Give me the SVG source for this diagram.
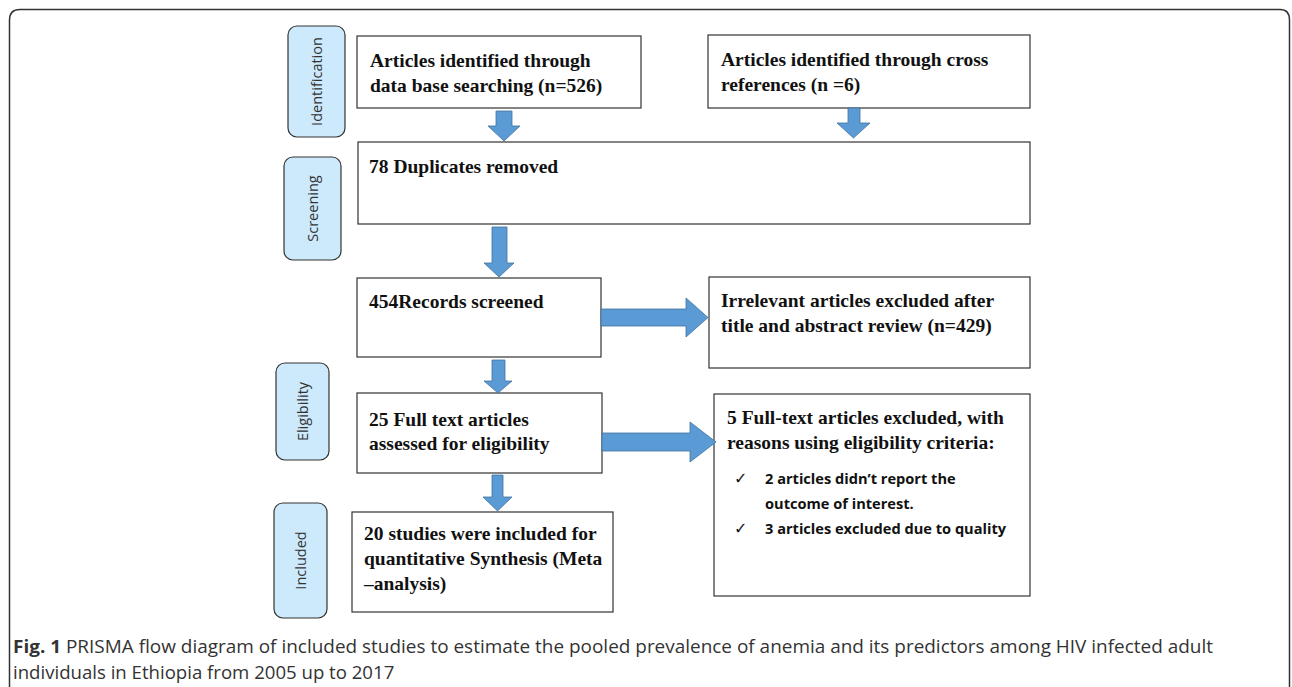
<svg xmlns="http://www.w3.org/2000/svg" width="1292" height="687" viewBox="0 0 1292 687">
<style>
.box{fill:#fff;stroke:#333;stroke-width:1.2}
.side{fill:#cdeafc;stroke:#333;stroke-width:1.2}
.t{font-family:"Liberation Serif","Times New Roman",serif;font-weight:bold;font-size:19.5px;fill:#111}
.s{font-family:"Open Sans","Noto Sans",sans-serif;font-size:14.5px;fill:#333}
.b{font-family:"Open Sans","Liberation Sans",sans-serif;font-weight:bold;font-size:14.6px;fill:#111}
.ck{font-family:"DejaVu Sans",sans-serif;font-size:16px;fill:#111}
.arr{fill:#5b9bd5;stroke:#41719c;stroke-width:0.8}
.cap{font-family:"Open Sans","Noto Sans",sans-serif;font-size:18.6px;fill:#333}
</style>
<rect width="1292" height="687" fill="#fff"/>
<path d="M9.5,700 V20 Q9.5,9.5 20,9.5 H1280 Q1289.5,9.5 1289.5,20 V700" fill="none" stroke="#333" stroke-width="1.5"/>

<g id="side-identification"><rect class="side" x="288" y="26" width="57" height="111" rx="9"/><text class="s" transform="translate(321.5,81.5) rotate(-90)" text-anchor="middle">Identification</text></g>
<g id="side-screening"><rect class="side" x="284" y="157" width="57" height="103" rx="9"/><text class="s" transform="translate(317.5,208.5) rotate(-90)" text-anchor="middle">Screening</text></g>
<g id="side-eligibility"><rect class="side" x="276" y="363" width="53" height="97" rx="9"/><text class="s" transform="translate(307.5,411.5) rotate(-90)" text-anchor="middle">Eligibility</text></g>
<g id="side-included"><rect class="side" x="274" y="503" width="53" height="115" rx="9"/><text class="s" transform="translate(305.5,560.5) rotate(-90)" text-anchor="middle">Included</text></g>

<g id="n-database"><rect class="box" x="357" y="36" width="284" height="72"/><text class="t" x="370" y="67">Articles identified through</text><text class="t" x="370" y="92">data base searching (n=526)</text></g>
<g id="n-crossref"><rect class="box" x="708" y="35" width="322" height="73"/><text class="t" x="721" y="66">Articles identified through cross</text><text class="t" x="721" y="91">references (n =6)</text></g>
<g id="n-duplicates"><rect class="box" x="358" y="142" width="672" height="82"/><text class="t" x="369" y="173">78 Duplicates removed</text></g>
<g id="n-screened"><rect class="box" x="357" y="278" width="244" height="79"/><text class="t" x="369" y="308">454Records screened</text></g>
<g id="n-irrelevant"><rect class="box" x="709" y="277" width="321" height="91"/><text class="t" x="721" y="307">Irrelevant articles excluded after</text><text class="t" x="721" y="332">title and abstract review (n=429)</text></g>
<g id="n-fulltext"><rect class="box" x="357" y="393" width="245" height="80"/><text class="t" x="369" y="426">25 Full text articles</text><text class="t" x="369" y="450">assessed for eligibility</text></g>
<g id="n-excluded"><rect class="box" x="714" y="394" width="316" height="202"/><text class="t" x="727" y="424">5 Full-text articles excluded, with</text><text class="t" x="727" y="449">reasons using eligibility criteria:</text>
<text class="ck" x="734" y="484">✓</text><text class="b" x="765" y="484">2 articles didn’t report the</text><text class="b" x="765" y="509">outcome of interest.</text>
<text class="ck" x="734" y="534">✓</text><text class="b" x="765" y="534">3 articles excluded due to quality</text></g>
<g id="n-included"><rect class="box" x="352" y="512" width="261" height="100"/><text class="t" x="364" y="540">20 studies were included for</text><text class="t" x="364" y="565">quantitative Synthesis (Meta</text><text class="t" x="364" y="590">–analysis)</text></g>

<g id="connectors">
<path class="arr" d="M496,111 H512 V126 H520 L504,141 L488,126 H496 Z"/>
<path class="arr" d="M848,108 H860 V123 H870 L853.5,138 L837,123 H848 Z"/>
<path class="arr" d="M492,227 H507 V263 H514 L499,277 L484,263 H492 Z"/>
<path class="arr" d="M601,309 H686 V298 L708,317.5 L686,337 V326 H601 Z"/>
<path class="arr" d="M492,360 H505 V381 H512 L498,393 L484,381 H492 Z"/>
<path class="arr" d="M602,433 H690 V422 L716,442 L690,462 V451 H602 Z"/>
<path class="arr" d="M492,475 H503 V497 H512 L497.5,511 L483,497 H492 Z"/>
</g>

<text class="cap" x="13" y="653" textLength="1200" lengthAdjust="spacingAndGlyphs"><tspan font-weight="bold">Fig. 1</tspan> PRISMA flow diagram of included studies to estimate the pooled prevalence of anemia and its predictors among HIV infected adult</text>
<text class="cap" x="13" y="679">individuals in Ethiopia from 2005 up to 2017</text>
</svg>
